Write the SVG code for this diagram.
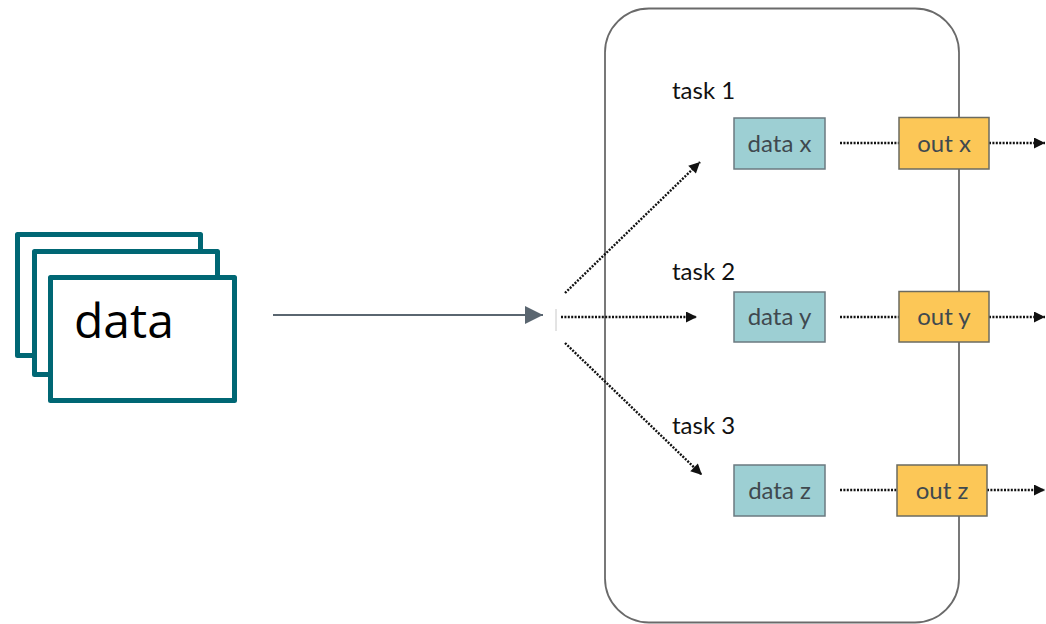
<svg xmlns="http://www.w3.org/2000/svg" width="1046" height="624" viewBox="0 0 1046 624">
<defs>
<style>
.stack{fill:#fff;stroke:#006774;stroke-width:5;stroke-linejoin:round}
.dat{fill:#9dcfd3;stroke:#6b7a80;stroke-width:1.5}
.out{fill:#fcc757;stroke:#6b6b60;stroke-width:1.5}
.lbl{font-family:Lato,"Open Sans",sans-serif;font-size:24px;fill:#3f494f;text-anchor:middle}
.task{font-family:Lato,"Open Sans",sans-serif;font-size:24px;fill:#111}
.dot{fill:none;stroke:#111;stroke-width:2.4;stroke-dasharray:2 1.4}
</style>
<marker id="ah" viewBox="0 0 10 10" refX="10" refY="5" markerWidth="13" markerHeight="11" markerUnits="userSpaceOnUse" orient="auto"><path d="M0,0 L10,5 L0,10 z" fill="#111"/></marker>
<marker id="gh" viewBox="0 0 10 10" refX="10" refY="5" markerWidth="20" markerHeight="18" markerUnits="userSpaceOnUse" orient="auto"><path d="M0,0 L10,5 L0,10 z" fill="#5a6670"/></marker>
</defs>
<rect id="container" x="605" y="8.5" width="354" height="614" rx="44" ry="44" fill="#fff" stroke="#6a6a6a" stroke-width="1.8"/>
<g id="data-stack">
<rect class="stack" x="17.5" y="234.5" width="183" height="121"/>
<rect class="stack" x="34.5" y="251.5" width="183" height="123"/>
<rect class="stack" x="50.5" y="277.5" width="184" height="123"/>
<text x="74" y="338" font-family="'Open Sans',sans-serif" font-size="48" fill="#000">data</text>
</g>
<g id="connectors">
<line x1="273" y1="315" x2="543" y2="315" stroke="#5a6670" stroke-width="1.8" marker-end="url(#gh)"/>
<line x1="556" y1="309" x2="556" y2="331" stroke="#c8c8c8" stroke-width="1"/>
<line class="dot" x1="565" y1="293" x2="700" y2="162" marker-end="url(#ah)"/>
<line class="dot" x1="561" y1="317" x2="697" y2="317" marker-end="url(#ah)"/>
<line class="dot" x1="565" y1="343" x2="702" y2="475" marker-end="url(#ah)"/>
<line class="dot" x1="840" y1="143" x2="899" y2="143"/>
<line class="dot" x1="840" y1="317" x2="899" y2="317"/>
<line class="dot" x1="840" y1="490" x2="897" y2="490"/>
<line class="dot" x1="989" y1="143" x2="1045" y2="143" marker-end="url(#ah)"/>
<line class="dot" x1="989" y1="317" x2="1045" y2="317" marker-end="url(#ah)"/>
<line class="dot" x1="987" y1="490" x2="1045" y2="490" marker-end="url(#ah)"/>
</g>
<g id="task1">
<text class="task" x="672" y="99">task 1</text>
<g id="data-x"><rect class="dat" x="734" y="118" width="91" height="51"/><text class="lbl" x="779.5" y="152">data x</text></g>
<g id="out-x"><rect class="out" x="899" y="117.5" width="90" height="51.5"/><text class="lbl" x="944" y="152">out x</text></g>
</g>
<g id="task2">
<text class="task" x="672" y="280">task 2</text>
<g id="data-y"><rect class="dat" x="734" y="292" width="91" height="50"/><text class="lbl" x="779.5" y="325">data y</text></g>
<g id="out-y"><rect class="out" x="899" y="291.5" width="90" height="50.5"/><text class="lbl" x="944" y="325">out y</text></g>
</g>
<g id="task3">
<text class="task" x="672" y="434">task 3</text>
<g id="data-z"><rect class="dat" x="734" y="465" width="91" height="51"/><text class="lbl" x="779.5" y="499">data z</text></g>
<g id="out-z"><rect class="out" x="897" y="465" width="90" height="51"/><text class="lbl" x="942" y="499">out z</text></g>
</g>
</svg>
